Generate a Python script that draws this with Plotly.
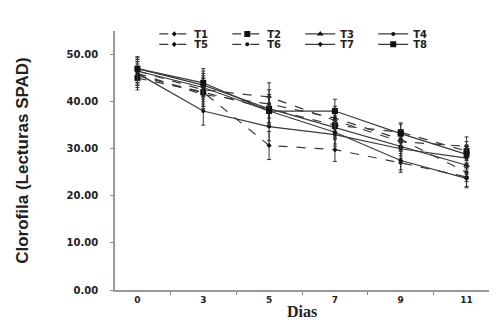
import plotly.graph_objects as go

dias = ["0", "3", "5", "7", "9", "11"]
series_names = ["T1", "T2", "T3", "T4", "T5", "T6", "T7", "T8"]
T1 = [46.5, 42.5, 41.0, 36.0, 31.5, 30.5]
T2 = [45.0, 42.0, 38.5, 35.0, 33.5, 29.5]
T3 = [47.0, 43.5, 38.5, 34.5, 30.5, 26.5]
T4 = [46.0, 38.0, 34.7, 33.0, 30.0, 28.0]
T5 = [45.5, 42.0, 30.7, 29.8, 27.0, 24.0]
T6 = [46.0, 41.5, 39.5, 36.5, 32.0, 25.0]
T7 = [46.5, 43.0, 38.0, 33.5, 27.5, 23.7]
T8 = [47.0, 44.0, 38.0, 38.0, 33.2, 28.8]
err = [2.5, 3.0, 3.0, 2.5, 2.0, 2.0]
values = [T1, T2, T3, T4, T5, T6, T7, T8]

dashes = ["dash", "dash", "solid", "solid", "dash", "dash", "solid", "solid"]
symbols = ["diamond", "square", "triangle-up", "circle", "diamond", "circle", "diamond", "square"]
sizes = [4, 6, 6, 4, 4, 4, 4, 6]

fig = go.Figure()
for i, (name, vals, d, s, sz) in enumerate(zip(series_names, values, dashes, symbols, sizes)):
    fig.add_trace(go.Scatter(
        x=dias, y=vals, name=name, mode="lines+markers",
        legend="legend" if i < 4 else "legend2",
        line=dict(color="#3a3a3a", width=1.2, dash=d),
        marker=dict(symbol=s, size=sz, color="#111"),
        error_y=dict(type="data", array=err, color="#333", thickness=1, width=2),
    ))

leg_font = dict(family="DejaVu Sans", size=10, color="#222", weight="bold")
common_leg = dict(orientation="h", xanchor="left", yanchor="middle",
                  entrywidth=28, entrywidthmode="pixels", itemwidth=30,
                  font=leg_font, bgcolor="rgba(0,0,0,0)", borderwidth=0)
fig.update_layout(
    width=500, height=330,
    margin=dict(l=107, r=19, t=22, b=48),
    plot_bgcolor="white", paper_bgcolor="white",
    showlegend=True,
    legend=dict(x=0.105, y=0.985, **common_leg),
    legend2=dict(x=0.105, y=0.945, **common_leg),
    font=dict(family="Liberation Sans", color="#222"),
)
fig.update_xaxes(type="category", tickson="boundaries", ticks="outside", ticklen=3,
                 tickcolor="#888", showline=True, linecolor="#999", linewidth=1.5,
                 showgrid=False, zeroline=False,
                 tickfont=dict(size=9, family="DejaVu Sans", weight="bold"),
                 title=dict(text="Dias", font=dict(size=16, family="Liberation Serif", weight="bold"), standoff=2))
fig.update_yaxes(range=[0, 55], tickvals=[0, 10, 20, 30, 40, 50],
                 ticktext=["0.00", "10.00", "20.00", "30.00", "40.00", "50.00"],
                 ticks="outside", ticklen=3, tickcolor="#888", ticklabelstandoff=10,
                 showline=True, linecolor="#999", linewidth=1.5, showgrid=False, zeroline=False,
                 tickfont=dict(size=10, family="DejaVu Sans", weight="bold"),
                 title=dict(text="Clorofila (Lecturas SPAD)", font=dict(size=17, family="Liberation Sans", weight="bold"), standoff=34))

fig.write_html("out.html")
